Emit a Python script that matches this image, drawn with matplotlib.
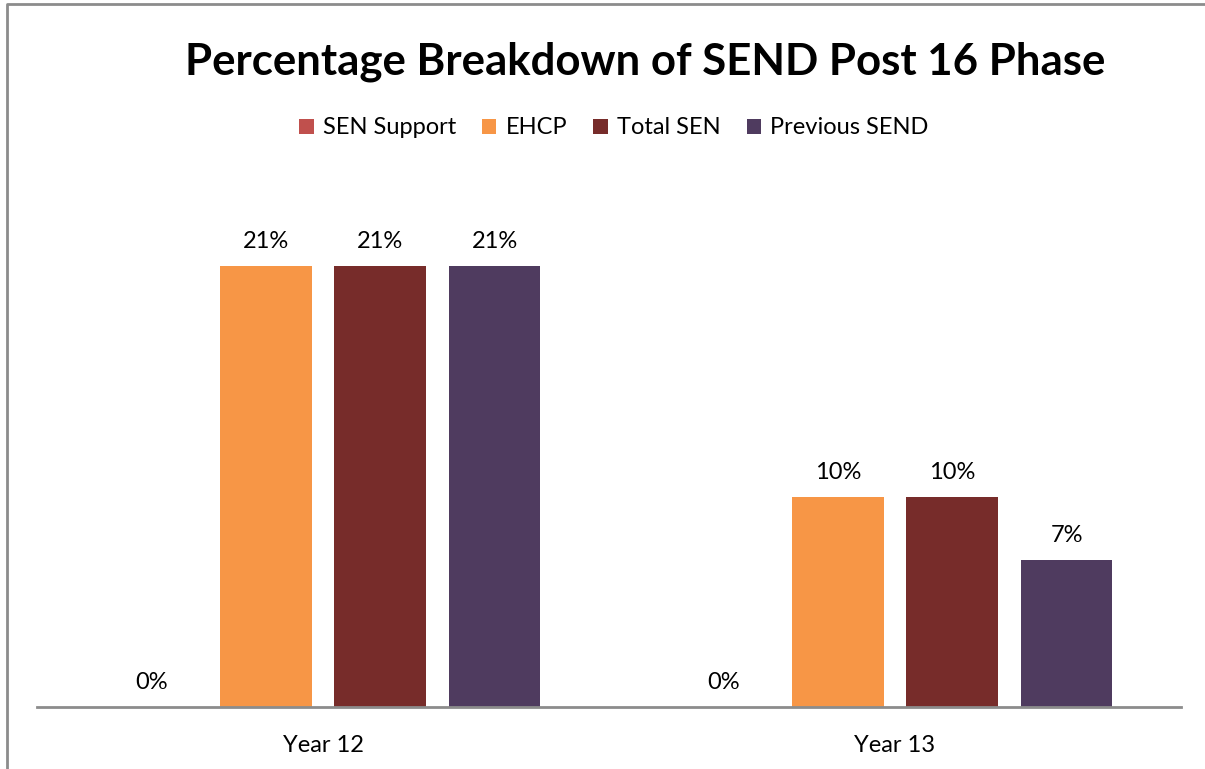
import matplotlib.pyplot as plt
from matplotlib.lines import Line2D
import numpy as np

categories = ["Year 12", "Year 13"]
series = ["SEN Support", "EHCP", "Total SEN", "Previous SEND"]
values = [
    [0, 0],    # SEN Support
    [21, 10],  # EHCP
    [21, 10],  # Total SEN
    [21, 7],   # Previous SEND
]
colors = ["#C0504D", "#F79646", "#772C2A", "#4F3B5F"]

plt.rcParams['font.family'] = ['Lato', 'DejaVu Sans']

W, H = 1205, 769
fig = plt.figure(figsize=(W / 100, H / 100), dpi=100)

# outer chart frame: only the left and top edges fall inside the image
fig.add_artist(Line2D([7 / W, 7 / W, 1.0], [0.0, 1 - 4 / H, 1 - 4 / H], transform=fig.transFigure,
                      color="#8C8C8C", linewidth=2))

ax = fig.add_axes([37 / W, 62 / H, (1181 - 37) / W, 525 / H])

x = np.arange(len(categories))
offsets = [-0.3, -0.1, 0.1, 0.3]
for vals, name, col, off in zip(values, series, colors, offsets):
    bars = ax.bar(x + off, vals, width=0.16, color=col, label=name)
    for b, v in zip(bars, vals):
        ax.text(b.get_x() + b.get_width() / 2, v + 0.65, f"{v}%", ha="center", va="bottom",
                fontsize=17)

ax.set_xlim(-0.5, 1.5)
ax.set_ylim(0, 25)
ax.set_xticks(x)
ax.set_xticklabels(categories, fontsize=17)
ax.tick_params(axis="x", length=0, pad=20)
ax.set_yticks([])
for s in ["top", "right", "left"]:
    ax.spines[s].set_visible(False)
ax.spines["bottom"].set_color("#8C8C8C")
ax.spines["bottom"].set_linewidth(2)

fig.text(645 / W, 1 - 62 / H, "Percentage Breakdown of SEND Post 16 Phase", ha="center", va="center",
         fontsize=31.5, fontweight="bold")

fig.legend(loc="center", bbox_to_anchor=(614 / W, 1 - 128 / H), ncol=4, frameon=False,
           fontsize=17, handlelength=0.6, handleheight=0.6, handletextpad=0.4, columnspacing=1.1)

plt.savefig("out.png", dpi=100)
